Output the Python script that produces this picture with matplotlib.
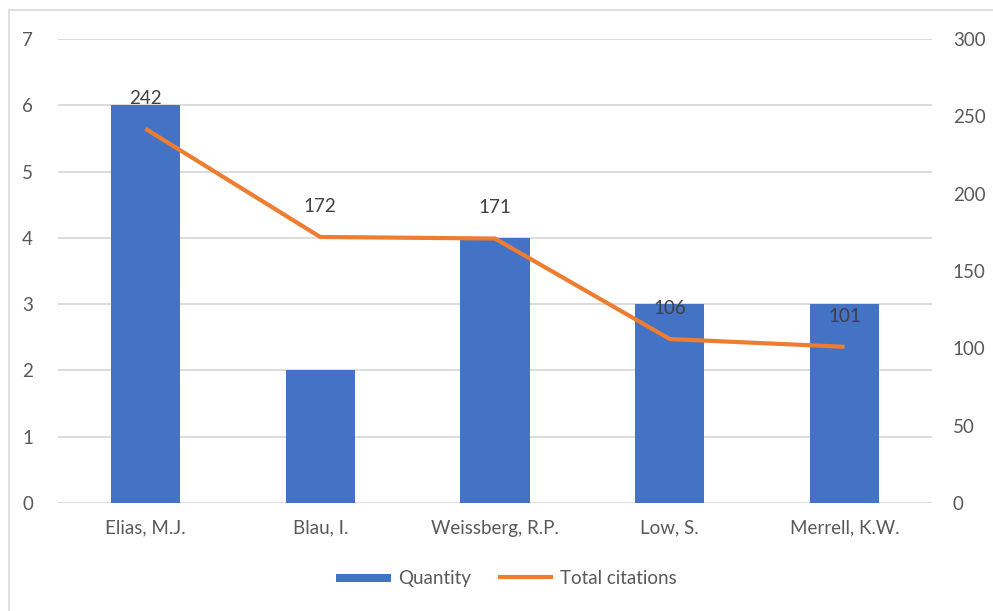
import matplotlib.pyplot as plt
from matplotlib.patches import Rectangle
import numpy as np

plt.rcParams['font.family'] = ['Lato', 'DejaVu Sans']

authors = ['Elias, M.J.', 'Blau, I.', 'Weissberg, R.P.', 'Low, S.', 'Merrell, K.W.']
quantity = [6, 2, 4, 3, 3]
citations = [242, 172, 171, 106, 101]

blue = '#4472C4'
orange = '#ED7D31'
grey_txt = '#595959'
fs = 13.5

fig = plt.figure(figsize=(9.93, 6.11), dpi=100)
fig.patches.append(Rectangle((9 / 993, -0.01), 1.0, (611 - 10) / 611 + 0.01,
                             transform=fig.transFigure, fill=False,
                             edgecolor='#d9d9d9', linewidth=1.2))

ax = fig.add_axes([58 / 993, 108 / 611, 874 / 993, 464 / 611])
x = np.arange(len(authors))
bars = ax.bar(x, quantity, width=0.395, color=blue, zorder=2, label='Quantity')
ax.set_xlim(-0.5, len(authors) - 0.5)
ax.set_ylim(0, 7)
ax.set_yticks(range(0, 8))
ax.grid(axis='y', color='#d9d9d9', linewidth=1.3, zorder=0)
ax.set_xticks(x)
ax.set_xticklabels(authors)
for s in ax.spines.values():
    s.set_visible(False)
ax.tick_params(length=0, labelsize=fs, colors=grey_txt)
ax.tick_params(axis='y', pad=18)
ax.tick_params(axis='x', pad=12)

ax2 = ax.twinx()
line, = ax2.plot(x, citations, color=orange, linewidth=3, zorder=3,
                 solid_capstyle='butt', label='Total citations')
ax2.set_ylim(0, 300)
ax2.set_yticks(range(0, 301, 50))
for s in ax2.spines.values():
    s.set_visible(False)
ax2.tick_params(length=0, labelsize=fs, colors=grey_txt, pad=15)
for xi, c in zip(x, citations):
    ax2.annotate(str(c), (xi, c), xytext=(0, 22), textcoords='offset points',
                 ha='center', va='center', fontsize=fs, color='#404040')

fig.legend(handles=[bars, line], labels=['Quantity', 'Total citations'],
           loc='center', bbox_to_anchor=(0.51, 0.054), ncol=2, frameon=False,
           fontsize=fs, labelcolor=grey_txt, handlelength=2.95,
           columnspacing=1.45, handletextpad=0.35)
for h in fig.legends[0].legend_handles[:1]:
    h.set_height(6)
    h.set_y(1)

fig.savefig('out.png', dpi=100)
